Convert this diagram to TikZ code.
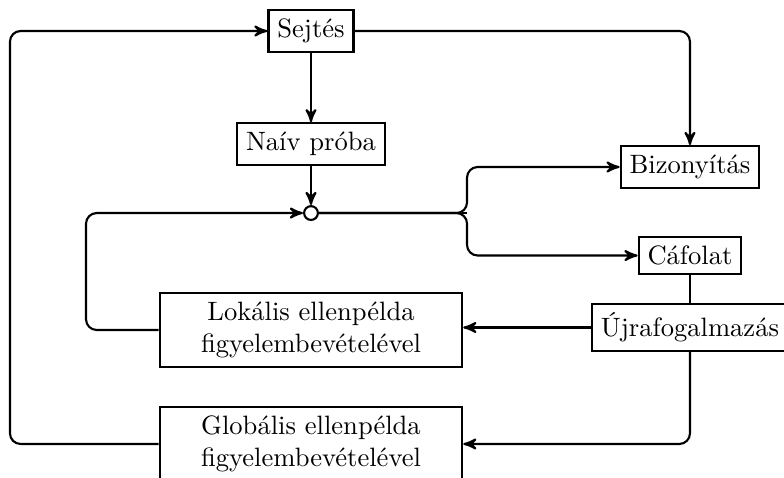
\documentclass[tikz,border=0pt]{standalone}
\usepackage{tikz}
\usetikzlibrary{arrows}
\usetikzlibrary{positioning}

\tikzset{
  lepes/.style={draw, thick},
  nagylepes/.style={draw, thick, minimum width=4cm, align=center},
  csomo/.style={draw, thick, circle, fill=white, inner sep=0pt, minimum size=5.2pt},
  nyil/.style={thick, -stealth', rounded corners},
  vonal/.style={thick, rounded corners},
}

\begin{document}
\begin{tikzpicture}
      \useasboundingbox (0,0) rectangle (10.371,6.310);
      \node[lepes] (sejtes) at (4.114,5.900) {Sejtés};
      \node[lepes] (naiv) at (4.114,4.405) {Naív próba};
      \node[csomo] (dont) at (4.114,3.492) {};
      \node[lepes] (biz) at (9.127,4.101) {Bizonyítás};
      \node[lepes] (caf) at (9.127,2.930) {Cáfolat};
      \node[lepes] (ujra) at (9.127,1.978) {Újrafogalmazás};
      \node[nagylepes] (lokal) at (4.114,1.945)
      {Lokális ellenpélda\\figyelembevételével};
      \node[nagylepes] (glob) at (4.114,0.437)
      {Globális ellenpélda\\figyelembevételével};
      \coordinate (elag) at (6.178,3.492);

      \draw[nyil] (sejtes) -- (naiv);
      \draw[nyil] (naiv) -- (dont);
      \draw[nyil] (sejtes.east) -| (biz.north);
      \draw[vonal] (dont.east) -- (elag);
      \draw[nyil] (dont.east) -- (elag) |- (biz.west);
      \draw[nyil] (dont.east) -- (elag) |- (caf.west);
      \draw[vonal] (caf) -- (ujra);
      \draw[nyil] (ujra.west) -- (lokal.east |- ujra.west);
      \draw[nyil] (ujra.south) |- (glob.east);
      \draw[nyil] (lokal.west) -| (1.138,3.492) -- (dont.west);
      \draw[nyil] (glob.west) -| (0.132,5.900) -- (sejtes.west);
    \end{tikzpicture}
\end{document}
